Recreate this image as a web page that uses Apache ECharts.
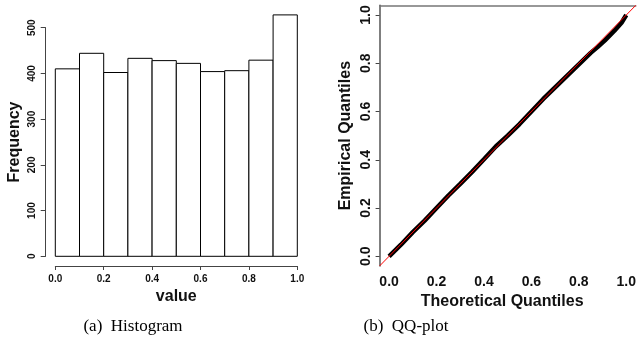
<!DOCTYPE html>
<html>
<head>
<meta charset="utf-8">
<script src="https://cdn.jsdelivr.net/npm/echarts@6/dist/echarts.min.js"></script>
<style>
  html, body { margin: 0; padding: 0; background: #fff; }
  #chart { width: 639px; height: 351px; }
</style>
</head>
<body>
<div id="chart"></div>
<script>
// histogram bins (left edge, right edge) and counts
const binLeft = [0.0, 0.1, 0.2, 0.3, 0.4, 0.5, 0.6, 0.7, 0.8, 0.9];
const binRight = [0.1, 0.2, 0.3, 0.4, 0.5, 0.6, 0.7, 0.8, 0.9, 1.0];
const binCounts = [410, 444, 402, 433, 428, 422, 404, 406, 429, 528];

// QQ-plot points
const theoQ = [0.00, 0.05, 0.10, 0.15, 0.20, 0.25, 0.30, 0.35, 0.40, 0.45, 0.50, 0.55,
  0.60, 0.65, 0.70, 0.75, 0.80, 0.85, 0.88, 0.91, 0.95, 0.98, 1.00];
const empQ = [0.000, 0.048, 0.100, 0.148, 0.200, 0.252, 0.300, 0.350, 0.402, 0.455, 0.500, 0.548,
  0.600, 0.652, 0.700, 0.748, 0.795, 0.843, 0.868, 0.895, 0.935, 0.968, 1.000];

const qqTicks = [0, 0.2, 0.4, 0.6, 0.8, 1.0];

const sans = "'Liberation Sans', Arial, sans-serif";
const serif = "'Liberation Serif', 'Times New Roman', serif";

const chart = echarts.init(document.getElementById('chart'));

const histData = binLeft.map((l, i) => [l, binRight[i], binCounts[i]]);
const qqData = theoQ.map((t, i) => [t, empQ[i]]);

chart.setOption({
    animation: false,
    backgroundColor: '#fff',
    grid: [
        { left: 55.3, top: 27.7, width: 242, height: 228.6 },
        { left: 379.6, top: 5.35, width: 261.8, height: 260.6 }
    ],
    xAxis: [
        {
            gridIndex: 0, type: 'value', min: 0, max: 1, interval: 0.2,
            offset: 9.7,
            axisLine: { show: true, onZero: false, lineStyle: { color: '#444', width: 1 } },
            axisTick: { show: true, length: 4, lineStyle: { color: '#444' } },
            axisLabel: {
                margin: 8, color: '#111', fontFamily: sans, fontWeight: 'bold', fontSize: 10,
                formatter: (v) => v.toFixed(1)
            },
            splitLine: { show: false },
            name: 'value', nameLocation: 'middle', nameGap: 20,
            nameTextStyle: { color: '#111', fontFamily: sans, fontWeight: 'bold', fontSize: 16 }
        },
        {
            gridIndex: 1, type: 'value', min: -0.04, max: 1.04,
            axisLine: { show: false, onZero: false },
            axisTick: { show: false, customValues: qqTicks },
            axisLabel: {
                customValues: qqTicks, margin: 9, color: '#111', fontFamily: sans,
                fontWeight: 'bold', fontSize: 14, formatter: (v) => v.toFixed(1)
            },
            splitLine: { show: false },
            name: 'Theoretical Quantiles', nameLocation: 'middle', nameGap: 21,
            nameTextStyle: {
                color: '#111', fontFamily: sans, fontWeight: 'bold', fontSize: 16,
                padding: [0, 11, 0, 0]
            }
        },
        {
            // top edge of the QQ box
            gridIndex: 1, type: 'value', min: -0.04, max: 1.04, position: 'top',
            axisLine: { show: true, onZero: false, lineStyle: { color: '#777', width: 1.5 } },
            axisTick: { show: false }, axisLabel: { show: false }, splitLine: { show: false }
        }
    ],
    yAxis: [
        {
            gridIndex: 0, type: 'value', min: 0, max: 500, interval: 100,
            offset: 9.6,
            axisLine: { show: true, onZero: false, lineStyle: { color: '#444', width: 1 } },
            axisTick: { show: true, length: 5, lineStyle: { color: '#444' } },
            axisLabel: {
                rotate: 90, margin: 8, color: '#111', fontFamily: sans, fontWeight: 'bold', fontSize: 10
            },
            splitLine: { show: false },
            name: 'Frequency', nameLocation: 'middle', nameGap: 23,
            nameTextStyle: { color: '#111', fontFamily: sans, fontWeight: 'bold', fontSize: 16 }
        },
        {
            gridIndex: 1, type: 'value', min: -0.04, max: 1.04, position: 'left',
            axisLine: { show: true, onZero: false, lineStyle: { color: '#555', width: 1.5 } },
            axisTick: { show: true, length: 4, customValues: qqTicks, lineStyle: { color: '#444' } },
            axisLabel: {
                customValues: qqTicks, rotate: 90, margin: 6, color: '#111', fontFamily: sans,
                fontWeight: 'bold', fontSize: 14, formatter: (v) => v.toFixed(1)
            },
            splitLine: { show: false },
            name: 'Empirical Quantiles', nameLocation: 'middle', nameGap: 26,
            nameTextStyle: { color: '#111', fontFamily: sans, fontWeight: 'bold', fontSize: 16 }
        }
    ],
    series: [
        {
            type: 'custom',
            xAxisIndex: 0, yAxisIndex: 0,
            clip: false,
            encode: { x: [0, 1], y: 2 },
            data: histData,
            renderItem: function (params, api) {
                const p0 = api.coord([api.value(0), api.value(2)]);
                const p1 = api.coord([api.value(1), 0]);
                return {
                    type: 'rect',
                    shape: { x: p0[0], y: p0[1], width: p1[0] - p0[0], height: p1[1] - p0[1] },
                    style: { fill: '#fff', stroke: '#000', lineWidth: 1 }
                };
            }
        },
        {
            type: 'line',
            xAxisIndex: 1, yAxisIndex: 1,
            data: qqData,
            showSymbol: false,
            lineStyle: { color: '#000', width: 4.5 },
            z: 2
        },
        {
            type: 'line',
            xAxisIndex: 1, yAxisIndex: 1,
            data: [[-0.04, -0.04], [1.04, 1.04]],
            showSymbol: false,
            lineStyle: { color: '#ff0000', width: 1 },
            z: 3
        }
    ],
    graphic: [
        {
            type: 'text', x: 133, y: 327,
            style: { text: '(a)  Histogram', font: '17px ' + serif, fill: '#000', align: 'center', verticalAlign: 'middle' }
        },
        {
            type: 'text', x: 406, y: 327,
            style: { text: '(b)  QQ-plot', font: '17px ' + serif, fill: '#000', align: 'center', verticalAlign: 'middle' }
        }
    ]
});
</script>
</body>
</html>
